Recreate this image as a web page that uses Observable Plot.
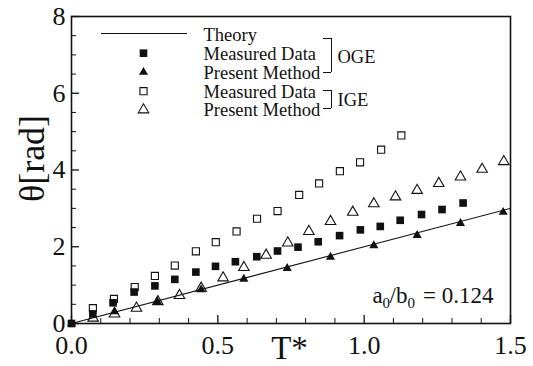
<!DOCTYPE html>
<html><head><meta charset="utf-8">
<script src="https://cdn.jsdelivr.net/npm/d3@7"></script>
<script src="https://cdn.jsdelivr.net/npm/@observablehq/plot@0.6"></script>
<style>html,body{margin:0;padding:0;background:#fff;}</style>
</head><body><div id="chart"></div>
<script>
// ---- data ----
const xTicks = [0, 0.5, 1.0, 1.5];
const yTicks = [0, 2, 4, 6, 8];
const xMinorTicks = [0.1, 0.2, 0.3, 0.4, 0.6, 0.7, 0.8, 0.9, 1.1, 1.2, 1.3, 1.4];
const yMinorTicks = [0.5, 1, 1.5, 2.5, 3, 3.5, 4.5, 5, 5.5, 6.5, 7, 7.5];

const theoryT = [0, 1.5];
const theoryTheta = [0, 3.0];

const ogeMeasT = [0, 0.073, 0.142, 0.214, 0.285, 0.353, 0.425, 0.492, 0.56, 0.633, 0.704, 0.774, 0.843, 0.916, 0.987, 1.055, 1.123, 1.196, 1.266, 1.338];
const ogeMeasTheta = [0, 0.25, 0.54, 0.82, 0.98, 1.15, 1.34, 1.49, 1.61, 1.74, 1.89, 1.99, 2.13, 2.29, 2.44, 2.53, 2.69, 2.84, 2.97, 3.14];

const ogePresT = [0, 0.147, 0.293, 0.443, 0.589, 0.737, 0.885, 1.033, 1.181, 1.329, 1.475];
const ogePresTheta = [0, 0.31, 0.57, 0.88, 1.16, 1.44, 1.73, 2.03, 2.30, 2.61, 2.90];

const igeMeasT = [0.073, 0.145, 0.216, 0.285, 0.353, 0.425, 0.493, 0.564, 0.634, 0.704, 0.778, 0.846, 0.917, 0.986, 1.058, 1.127];
const igeMeasTheta = [0.40, 0.64, 0.95, 1.24, 1.51, 1.88, 2.12, 2.40, 2.73, 2.93, 3.35, 3.65, 3.97, 4.20, 4.53, 4.90];

const igePresT = [0.074, 0.147, 0.222, 0.295, 0.369, 0.443, 0.518, 0.589, 0.665, 0.739, 0.811, 0.885, 0.961, 1.033, 1.107, 1.181, 1.255, 1.329, 1.403, 1.477];
const igePresTheta = [0.14, 0.25, 0.40, 0.57, 0.73, 0.92, 1.19, 1.46, 1.78, 2.10, 2.40, 2.66, 2.90, 3.12, 3.30, 3.47, 3.65, 3.82, 4.02, 4.22];

const legendLabels = ["Theory", "Measured Data", "Present Method", "Measured Data", "Present Method"];
const groupLabels = ["OGE", "IGE"];
const xLabel = "T*";
const yLabel = "θ[rad]";

// ---- layout ----
const W = 533, H = 366, ML = 71, MR = 23, MT = 16, MB = 43;
const PW = W - ML - MR, PH = H - MT - MB;
const FONT = "Liberation Serif, Times New Roman, serif";
const INK = "#111";

const pts = (xs, ys) => xs.map((x, i) => ({x, y: ys[i]}));

// pixel-positioned helper rules (layout only)
const midX = ML + PW / 2, midY = MT + PH / 2;
function hline(x1, x2, y, sw = 1) {
  return Plot.ruleY([0], {y: null, insetLeft: x1 - ML, insetRight: ML + PW - x2, dy: y - midY, stroke: INK, strokeWidth: sw});
}
function vline(x, y1, y2, sw = 1) {
  return Plot.ruleX([0], {x: null, insetTop: y1 - MT, insetBottom: MT + PH - y2, dx: x - midX, stroke: INK, strokeWidth: sw});
}
function label(txt, px, py, opts = {}) {
  return Plot.text([txt], {frameAnchor: "top-left", dx: px - ML, dy: py - MT, text: d => d,
    textAnchor: "start", lineAnchor: "middle", fontSize: 18.5, fontFamily: FONT, fill: INK, ...opts});
}

const legendRows = [52.7, 71.7, 90.7, 109.3];
const legendSymbols = [
  {symbol: "square", fill: INK, stroke: "none", r: 4.3},
  {symbol: "triangle", fill: INK, stroke: "none", r: 3.4},
  {symbol: "square", fill: "none", stroke: INK, strokeWidth: 1.1, r: 4.0},
  {symbol: "triangle", fill: "none", stroke: INK, strokeWidth: 1.1, r: 3.9}
];

const chart = Plot.plot({
  width: W, height: H,
  marginLeft: ML, marginRight: MR, marginTop: MT, marginBottom: MB,
  style: {fontFamily: FONT, background: "#fff", color: INK},
  x: {domain: [0, 1.5]},
  y: {domain: [0, 8]},
  marks: [
    // axes labels (no built-in tick marks)
    Plot.axisX({ticks: xTicks, tickSize: 0, tickPadding: 12, tickFormat: d3.format(".1f"), fontSize: 26, fontFamily: FONT, label: null, fill: INK}),
    Plot.axisY({ticks: yTicks, tickSize: 0, tickPadding: 6, fontSize: 26, fontFamily: FONT, label: null, fill: INK, dy: 0}),
    // inward tick marks
    Plot.tickX(xTicks, {x: d => d, insetTop: PH - 8, stroke: INK, strokeWidth: 1.3}),
    Plot.tickX(xMinorTicks, {x: d => d, insetTop: PH - 5, stroke: INK, strokeWidth: 1}),
    Plot.tickY(yTicks, {y: d => d, insetRight: PW - 8, stroke: INK, strokeWidth: 1.3}),
    Plot.tickY(yMinorTicks, {y: d => d, insetRight: PW - 5, stroke: INK, strokeWidth: 1}),
    Plot.frame({stroke: INK, strokeWidth: 1.6}),
    // theory line
    Plot.line(pts(theoryT, theoryTheta), {x: "x", y: "y", stroke: INK, strokeWidth: 1.1}),
    // data
    Plot.dot(pts(igeMeasT, igeMeasTheta), {x: "x", y: "y", symbol: "square", fill: "none", stroke: INK, strokeWidth: 1.1, r: 4.0}),
    Plot.dot(pts(igePresT, igePresTheta), {x: "x", y: "y", symbol: "triangle", fill: "none", stroke: INK, strokeWidth: 1.1, r: 3.9}),
    Plot.dot(pts(ogeMeasT, ogeMeasTheta), {x: "x", y: "y", symbol: "square", fill: INK, stroke: "none", r: 4.3}),
    Plot.dot(pts(ogePresT, ogePresTheta), {x: "x", y: "y", symbol: "triangle", fill: INK, stroke: "none", r: 3.4}),
    // legend
    hline(101, 187, 33, 1.1),
    ...legendSymbols.map((s, i) => Plot.dot([0], {frameAnchor: "top-left", dx: 143 - ML, dy: legendRows[i] - MT, ...s})),
    label(legendLabels[0], 203, 34.5),
    ...legendRows.map((ry, i) => label(legendLabels[i + 1], 203, ry + 0.5)),
    // brackets
    vline(331, 38, 72), hline(323, 331, 38), hline(323, 331, 72),
    vline(331, 90, 108), hline(323, 331, 90), hline(323, 331, 108),
    label(groupLabels[0], 337, 56.5),
    label(groupLabels[1], 337, 99.5),
    // annotation a0/b0 = 0.124
    Plot.text(["a"], {frameAnchor: "top-left", dx: 372 - ML, dy: 302 - MT, text: d => d, textAnchor: "start", lineAnchor: "bottom", fontSize: 23, fontFamily: FONT, fill: INK}),
    Plot.text(["0"], {frameAnchor: "top-left", dx: 382 - ML, dy: 307 - MT, text: d => d, textAnchor: "start", lineAnchor: "bottom", fontSize: 15, fontFamily: FONT, fill: INK}),
    Plot.text(["/b"], {frameAnchor: "top-left", dx: 389 - ML, dy: 302 - MT, text: d => d, textAnchor: "start", lineAnchor: "bottom", fontSize: 23, fontFamily: FONT, fill: INK}),
    Plot.text(["0"], {frameAnchor: "top-left", dx: 407 - ML, dy: 307 - MT, text: d => d, textAnchor: "start", lineAnchor: "bottom", fontSize: 15, fontFamily: FONT, fill: INK}),
    Plot.text(["= 0.124"], {frameAnchor: "top-left", dx: 493 - ML, dy: 302 - MT, text: d => d, textAnchor: "end", lineAnchor: "bottom", fontSize: 23, fontFamily: FONT, fill: INK}),
    // axis titles
    Plot.text([xLabel], {frameAnchor: "bottom", dy: 358 - (MT + PH), dx: 289 - midX, text: d => d, textAnchor: "middle", lineAnchor: "bottom", fontSize: 33, fontFamily: FONT, fill: INK}),
    Plot.text([yLabel], {frameAnchor: "left", dx: 43 - ML, dy: 158 - midY, text: d => d, rotate: -90, textAnchor: "middle", lineAnchor: "bottom", fontSize: 36, fontFamily: FONT, fill: INK})
  ]
});
document.getElementById("chart").appendChild(chart);
</script></body></html>
